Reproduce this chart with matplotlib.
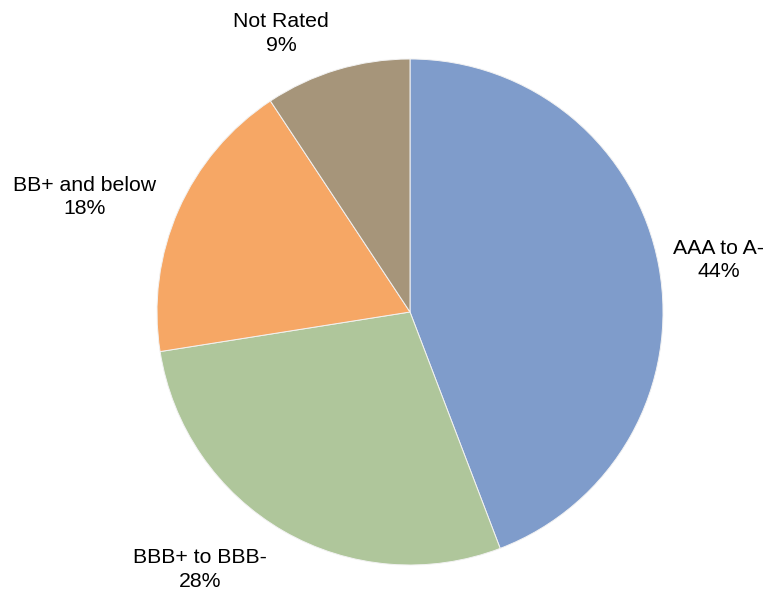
import matplotlib.pyplot as plt

# rating breakdown (share of portfolio, %)
labels = ["AAA to A-", "BBB+ to BBB-", "BB+ and below", "Not Rated"]
shares = [44.2, 28.3, 18.2, 9.3]
colors = ["#7F9CCB", "#AFC69B", "#F6A765", "#A6957A"]

# where each label box sits, in pie-radius units
label_pos = [(1.22, 0.205), (-0.83, -1.018), (-1.285, 0.455), (-0.51, 1.10)]


def main():
    plt.rcParams['font.family'] = ['Liberation Sans', 'DejaVu Sans']

    fig = plt.figure(figsize=(7.74, 5.90), dpi=100)
    ax = fig.add_axes([0, 0, 1, 1])

    total = sum(shares)
    texts = ["%s\n%d%%" % (l, round(100 * s / total)) for l, s in zip(labels, shares)]

    wedges, lbls = ax.pie(shares, labels=texts, colors=colors, startangle=90,
                          counterclock=False, radius=1.0,
                          wedgeprops=dict(edgecolor="#F2F2F2", linewidth=0.7),
                          textprops=dict(fontsize=15.3, color="black", ha="center",
                                         va="center", linespacing=1.3))
    for t, p in zip(lbls, label_pos):
        t.set_position(p)
        t.set_ha("center")
        t.set_va("center")

    # pixel-matched limits: centre at (410, 312), radius 253 px
    r = 253.0
    ax.set_xlim(-410 / r, 364 / r)
    ax.set_ylim(-278 / r, 312 / r)
    ax.set_aspect("auto")
    ax.axis("off")

    fig.savefig("out.png", dpi=100)


if __name__ == "__main__":
    main()
